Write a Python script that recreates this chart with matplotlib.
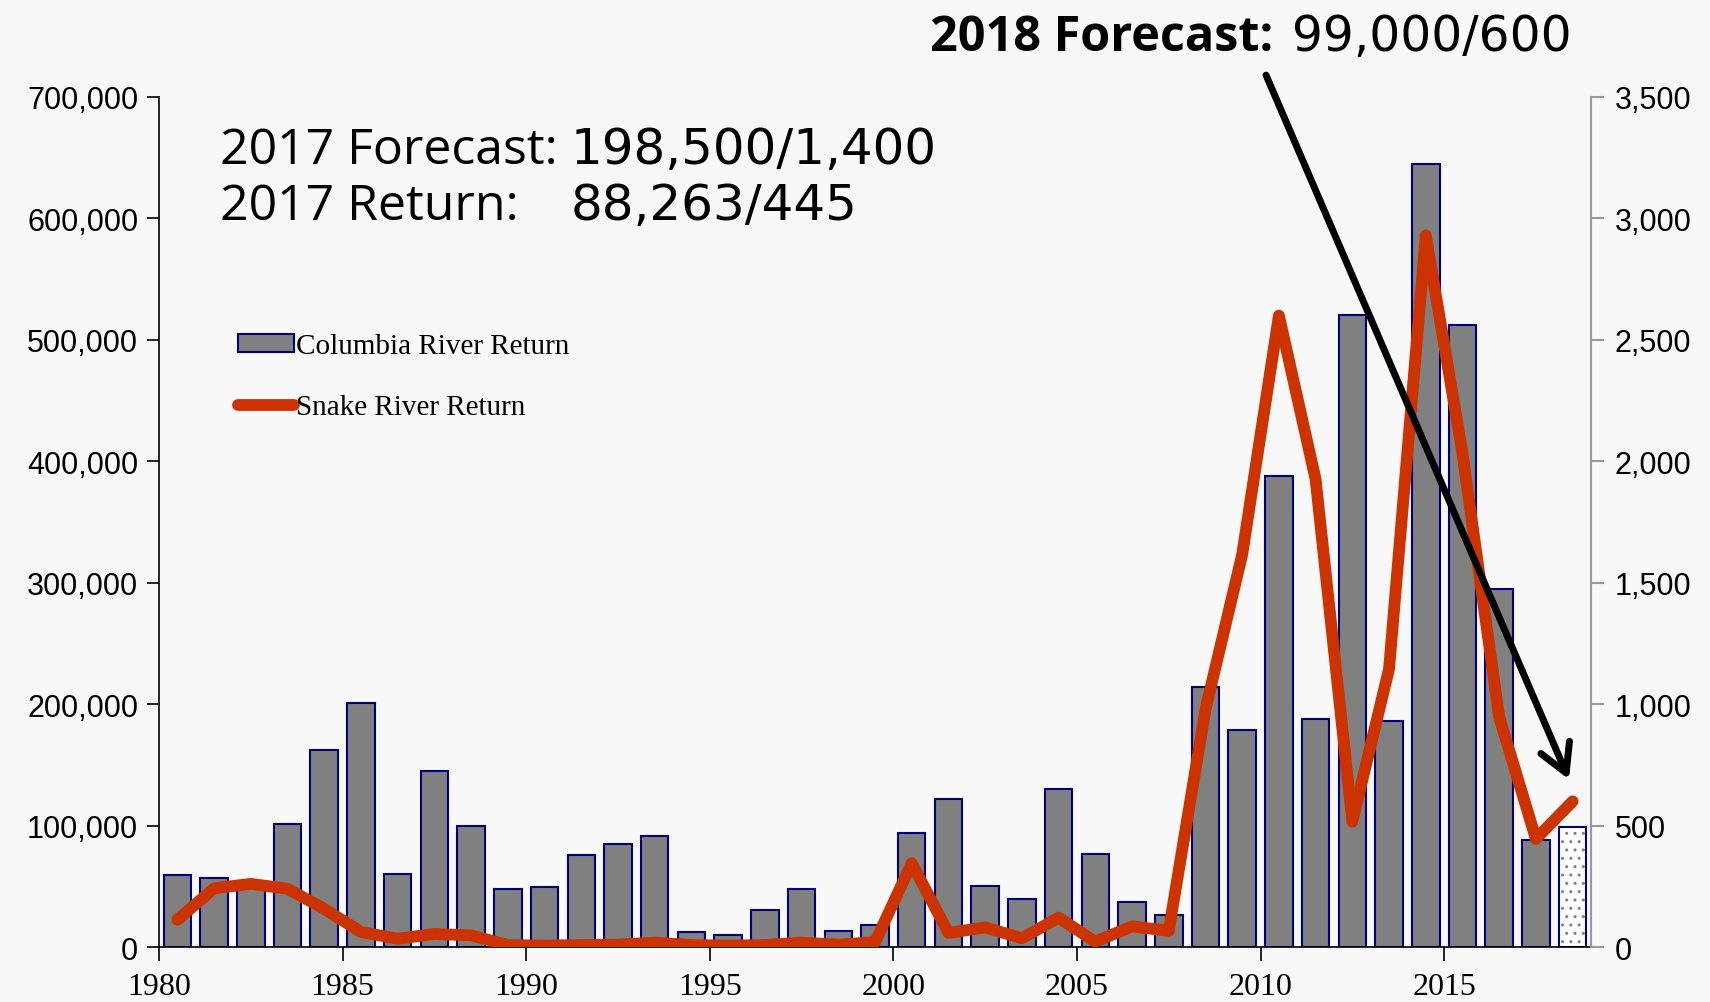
import matplotlib.pyplot as plt
from matplotlib.ticker import StrMethodFormatter, FixedLocator

#Data
years = list(range(1980, 2019))
columbia_return = [59000, 56500, 52000, 101000, 162000, 201000, 60000, 145000, 100000, 47500,
                   49500, 76000, 85000, 91500, 12500, 10000, 30500, 47500, 13500, 18000,
                   94000, 122000, 50000, 39500, 130000, 77000, 37000, 26000, 214500, 178600,
                   387800, 187600, 520800, 185800, 645000, 512500, 295000, 88263, 99000]
snake_return = [112, 242, 260, 240, 157, 62, 34, 54, 48, 8,
                6, 8, 10, 18, 8, 6, 8, 18, 10, 20,
                345, 58, 81, 36, 121, 22, 85, 67, 978, 1616,
                2600, 1926, 516, 1145, 2930, 2033, 947, 445, 600]
tick_years = [1980, 1985, 1990, 1995, 2000, 2005, 2010, 2015]

#Categories sit between the year ticks
xpos = [y + 0.5 for y in years]

fig = plt.figure(figsize=(17.1, 10.03), dpi=100, facecolor='#f8f8f8')
ax = fig.add_axes([0.093, 0.0548, 0.8374, 0.8475])
ax.set_facecolor('none')

#Observed years, then the forecast bar with dots
ax.bar(xpos[:-1], columbia_return[:-1], width=0.75, color='#808080', edgecolor='#000080',
       linewidth=1.5, label='Columbia River Return')
ax.bar(xpos[-1], columbia_return[-1], width=0.75, color='white', edgecolor='#808080',
       linewidth=0, hatch='..')
ax.bar(xpos[-1], columbia_return[-1], width=0.75, fill=False, edgecolor='#000080', linewidth=1.5)

ax.set_xlim(1980, 2019)
ax.set_ylim(0, 700000)
ax.yaxis.set_major_formatter(StrMethodFormatter('{x:,.0f}'))
ax.xaxis.set_major_locator(FixedLocator(tick_years))
ax.set_xticklabels([str(y) for y in tick_years], fontfamily='Liberation Serif', fontsize=23)
ax.tick_params(axis='x', length=10, width=1.2, pad=8)
ax.tick_params(axis='y', length=9, width=1.2, labelsize=22, pad=6)
for lab in ax.get_yticklabels():
    lab.set_fontfamily('Liberation Sans')
ax.spines['top'].set_visible(False)
ax.spines['right'].set_visible(False)
ax.spines['left'].set_linewidth(1.2)
ax.spines['bottom'].set_linewidth(1.2)

ax2 = ax.twinx()
ax2.plot(xpos, snake_return, color='#cc3300', linewidth=8.5, solid_capstyle='round',
         solid_joinstyle='round', label='Snake River Return')
ax2.set_ylim(0, 3500)
ax2.yaxis.set_major_formatter(StrMethodFormatter('{x:,.0f}'))
ax2.tick_params(axis='y', length=9, width=1.5, colors='#999999', labelcolor='black',
                labelsize=22, pad=8)
for lab in ax2.get_yticklabels():
    lab.set_fontfamily('Liberation Sans')
for s in ['top', 'left', 'bottom']:
    ax2.spines[s].set_visible(False)
ax2.spines['right'].set_color('#999999')
ax2.spines['right'].set_linewidth(1.5)

#Legend
h1, l1 = ax.get_legend_handles_labels()
h2, l2 = ax2.get_legend_handles_labels()
ax2.legend(h1 + h2, l1 + l2, loc='upper left', bbox_to_anchor=(0.037, 0.753), frameon=False,
           prop={'family': 'Liberation Serif', 'size': 21}, handlelength=1.9, handleheight=0.55,
           handletextpad=0.08, labelspacing=1.2)

#Text notes
fig.text(220 / 1710, 1 - 164 / 1003, '2017 Forecast:', fontfamily='Open Sans',
         fontsize=36, ha='left', va='baseline')
fig.text(571 / 1710, 1 - 164 / 1003, '198,500/1,400', fontfamily='DejaVu Sans',
         fontsize=36, ha='left', va='baseline')
fig.text(220 / 1710, 1 - 220 / 1003, '2017 Return:', fontfamily='Open Sans',
         fontsize=36, ha='left', va='baseline')
fig.text(571 / 1710, 1 - 220 / 1003, '88,263/445', fontfamily='DejaVu Sans',
         fontsize=36, ha='left', va='baseline')
fig.text(930 / 1710, 1 - 51 / 1003, '2018 Forecast:', fontfamily='Open Sans', fontweight='bold',
         fontsize=35, ha='left', va='baseline')
fig.text(1292 / 1710, 1 - 51 / 1003, '99,000/600', fontfamily='DejaVu Sans',
         fontsize=35, ha='left', va='baseline')

#Arrow toward the 2018 forecast
ax2.annotate('', xy=(2018.4, 690), xytext=(2010.15, 3590),
             arrowprops=dict(arrowstyle='->,head_length=0.5,head_width=0.28', lw=5,
                             color='black', mutation_scale=40, shrinkA=0, shrinkB=0),
             annotation_clip=False)

fig.savefig('out.png', dpi=100, facecolor=fig.get_facecolor())
